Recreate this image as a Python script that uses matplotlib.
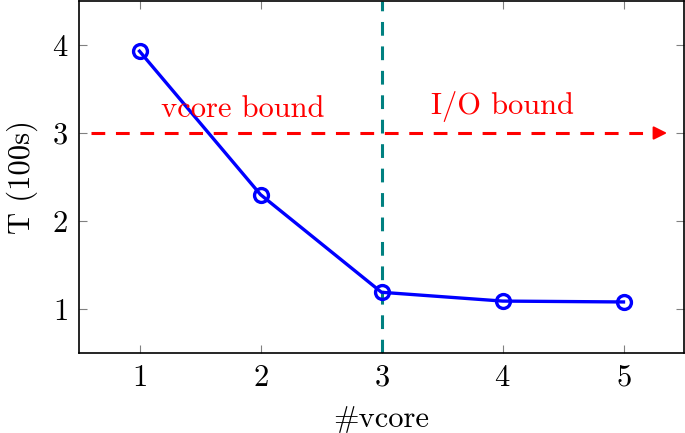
import matplotlib
matplotlib.use('Agg')
import matplotlib.pyplot as plt

plt.rcParams['font.family'] = 'serif'
plt.rcParams['font.serif'] = ['cmr10']
plt.rcParams['mathtext.fontset'] = 'cm'
plt.rcParams['axes.unicode_minus'] = False
plt.rcParams['axes.formatter.use_mathtext'] = True

# data
vcores = [1, 2, 3, 4, 5]
t_100s = [3.93, 2.30, 1.19, 1.09, 1.08]
split_at = 3
bound_level = 3
arrow_from, arrow_to = 0.6, 5.36
xticks = [1, 2, 3, 4, 5]
yticks = [1, 2, 3, 4]

fs = 22
dash = (0, (4.5, 3.5))

fig = plt.figure(figsize=(6.85, 4.33), dpi=100)
ax = fig.add_axes([79/685, 80/433, 605/685, 352/433])

ax.plot(vcores, t_100s, color='blue', lw=2.4, marker='o', ms=10,
        mfc='none', mec='blue', mew=2.4, zorder=3)

# regime split
ax.axvline(split_at, color='teal', ls=dash, lw=2.2, zorder=2)

# red dashed arrow across the plot: dashed shaft + solid head
ax.plot([arrow_from, arrow_to - 0.05], [bound_level, bound_level],
        color='red', lw=2.2, ls=dash)
ax.annotate('', xy=(arrow_to, bound_level),
            xytext=(arrow_to - 0.08, bound_level),
            arrowprops=dict(arrowstyle='-|>', color='red', lw=1.5,
                            mutation_scale=20, shrinkA=0, shrinkB=0))
ax.text(1.85, bound_level + 0.18, 'vcore bound', color='red', fontsize=fs,
        ha='center', va='baseline')
ax.text(4.0, bound_level + 0.215, 'I/O bound', color='red', fontsize=fs,
        ha='center', va='baseline')

ax.set_xlim(0.5, 5.5)
ax.set_ylim(0.5, 4.5)
ax.set_xticks(xticks)
ax.set_yticks(yticks)
ax.tick_params(direction='in', length=6, color='gray', labelsize=fs,
               top=True, right=True, pad=8)
for s in ax.spines.values():
    s.set_linewidth(1.2)
ax.set_xlabel('#vcore', fontsize=fs, labelpad=10)
ax.set_ylabel('T (100s)', fontsize=fs, labelpad=10)

fig.savefig('out.png', dpi=100)
